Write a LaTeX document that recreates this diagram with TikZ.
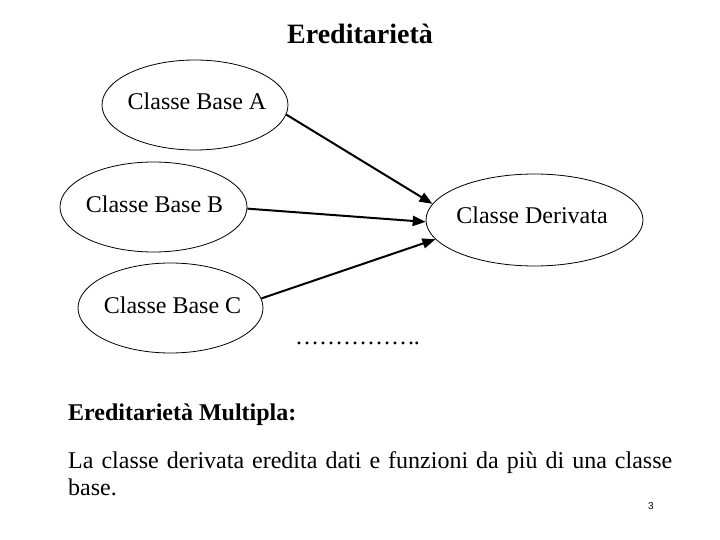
\documentclass[tikz,border=0pt]{standalone}
\usepackage{fontspec}
\setmainfont{Liberation Serif}
\setsansfont{Liberation Sans}
\usetikzlibrary{arrows.meta,shapes.geometric}
\tikzset{
  oval/.style={draw, ellipse, line width=0.8pt, inner sep=0pt},
  lbl/.style={anchor=base, inner sep=0pt, font=\fontsize{24}{27.6}\selectfont},
  arr/.style={line width=2pt, -{Triangle[length=13pt,width=10pt]}},
}
\begin{document}
\begin{tikzpicture}[x=1pt,y=-1pt]
\path[use as bounding box, fill=white] (0,0) rectangle (720,540);
% title
\node[anchor=base, inner sep=0pt, font=\fontsize{28}{32}\selectfont\bfseries] (title) at (360,44) {Ereditarietà};
% ellipses
\node[oval, minimum width=186pt, minimum height=90pt] (A) at (195,105) {};
\node[oval, minimum width=187pt, minimum height=90pt] (B) at (153.5,207) {};
\node[oval, minimum width=185pt, minimum height=90pt] (C) at (170.5,308) {};
\node[oval, minimum width=217pt, minimum height=92pt] (D) at (534.5,220) {};
\node[lbl] (tA) at (197,110) {Classe Base A};
\node[lbl] (tB) at (154.5,212) {Classe Base B};
\node[lbl] (tC) at (172.5,313) {Classe Base C};
\node[lbl] (tD) at (532,224) {Classe Derivata};
% arrows
\draw[arr] (A.-6) -- (D.171);
\draw[arr] (B.-1) -- (D.181);
\draw[arr] (C.6) -- (D.191);
% dots
\node[lbl] (dots) at (357.5,344) {……………\kern-0.05em.};
% bottom text
\node[anchor=base west, inner sep=0pt, font=\fontsize{24}{27.6}\selectfont\bfseries] (sub) at (68,420) {Ereditarietà Multipla:};
\node[anchor=base west, inner sep=0pt, font=\fontsize{24}{27.6}\selectfont] (body1) at (68,468) {\makebox[604pt][s]{La classe derivata eredita dati e funzioni da più di una classe}};
\node[anchor=base west, inner sep=0pt, font=\fontsize{24}{27.6}\selectfont] (body2) at (68,495) {base.};
\node[anchor=base, inner sep=0pt, font=\sffamily\fontsize{10}{12}\selectfont] (num) at (651,509) {3};
\end{tikzpicture}
\end{document}
